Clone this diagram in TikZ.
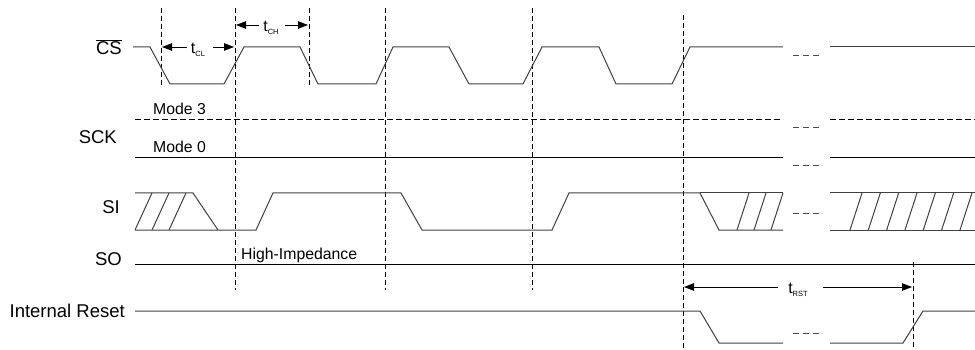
\documentclass[tikz,border=0pt]{standalone}
\usepackage{fontspec}
\setmainfont{Liberation Sans}
\usetikzlibrary{arrows.meta}
\begin{document}
\begin{tikzpicture}[x=1pt,y=-1pt,
  wave/.style={line width=1pt, draw=black!75, line join=miter},
  guide/.style={line width=0.8pt, dash pattern=on 5pt off 3pt, draw=black},
  lvl/.style={line width=0.8pt, draw=black},
  lvldash/.style={line width=0.8pt, draw=black, dash pattern=on 6pt off 3pt},
  lbl/.style={font=\fontsize{18.5}{19}\selectfont, inner sep=0pt, anchor=east},
  sml/.style={font=\fontsize{15.8}{16}\selectfont, inner sep=0pt, anchor=west},
  tlbl/.style={inner sep=0pt},
  dim/.style={line width=0.8pt, draw=black, -{Triangle[length=10pt,width=7.5pt]}},
  gapmark/.style={line width=1pt, dash pattern=on 6pt off 4pt, draw=black!70},
]
\useasboundingbox (0,0) rectangle (975,350);

% ---- vertical guides
\coordinate (g1t) at (161,8);   \coordinate (g1b) at (161,85);
\coordinate (g2t) at (235,8);   \coordinate (g2b) at (235,290);
\coordinate (g3t) at (309,8);   \coordinate (g3b) at (309,85);
\coordinate (g4t) at (385,8);   \coordinate (g4b) at (385,290);
\coordinate (g5t) at (532,8);   \coordinate (g5b) at (532,290);
\coordinate (g6t) at (683,15);  \coordinate (g6b) at (683,350);
\coordinate (g7t) at (913,262); \coordinate (g7b) at (913,350);
\foreach \g in {1,...,7} \draw[guide] (g\g t) -- (g\g b);

% ---- labels
\node[lbl] (cs) at (122,47) {$\overline{\hbox{CS}}$};
\node[lbl] (sck) at (117,137) {SCK};
\node[lbl] (si) at (120,207) {SI};
\node[lbl] (so) at (122,259) {SO};
\node[lbl] (ir) at (125,311) {Internal Reset};
\node[sml] (m3) at (153,109) {Mode 3};
\node[sml] (m0) at (153,147) {Mode 0};
\node[sml] (hz) at (241,255) {High-Impedance};

% ---- CS
\draw[wave] (133,47) -- (150,47) -- (170,84) -- (224,84) -- (244,47) -- (300,47) -- (318,84)
  -- (376,84) -- (393,47) -- (449,47) -- (469,84) -- (523,84) -- (542,47) -- (599,47)
  -- (616,84) -- (672,84) -- (690,47) -- (783,47);
\draw[wave] (830,47) -- (975,47);
\draw[gapmark] (793,56) -- (819,56);

% ---- SCK
\draw[lvldash] (135,119) -- (783,119);
\draw[lvldash] (830,119) -- (975,119);
\draw[lvl] (135,157) -- (783,157);
\draw[lvl] (830,157) -- (975,157);
\draw[gapmark] (793,128) -- (819,128);
\draw[gapmark] (793,166) -- (819,166);

% ---- SI
\draw[wave] (135,193) -- (193,193) -- (218,230);
\draw[wave] (135,230) -- (256,230) -- (273,193) -- (401,193) -- (422,230) -- (552,230)
  -- (569,193) -- (700,193) -- (719,230) -- (783,230);
\draw[wave] (700,193) -- (783,193);
\foreach \b in {135,152,169} \draw[wave] (\b,230) -- (\b+17,193);
\foreach \b in {737,754,771} \draw[wave] (\b,230) -- (\b+12,193);
\draw[gapmark] (793,213) -- (819,213);
\draw[wave] (830,193) -- (975,193);
\draw[wave] (830,230) -- (975,230);
\foreach \k in {0,...,6} \draw[wave] (850+18.33*\k,230) -- (862+18.33*\k,193);

% ---- SO
\draw[lvl] (135,264) -- (975,264);

% ---- Internal reset
\draw[wave] (135,311) -- (700,311) -- (719,343) -- (783,343);
\draw[wave] (830,343) -- (903,343) -- (923,311) -- (975,311);
\draw[gapmark] (793,333) -- (819,333);

% ---- timing dimensions
\node[tlbl] (tcl) at (198,50) {{\fontsize{16}{16}\selectfont t}{\fontsize{7.5}{8}\selectfont\raisebox{-3.5pt}{CL}}};
\coordinate (tcla) at (162,47); \coordinate (tclb) at (234,47);
\draw[dim] ([xshift=-4pt]tcl.west |- tcla) -- (tcla);
\draw[dim] ([xshift=8pt]tcl.east |- tclb) -- (tclb);

\node[tlbl] (tch) at (271,28) {{\fontsize{16}{16}\selectfont t}{\fontsize{7.5}{8}\selectfont\raisebox{-3.5pt}{CH}}};
\coordinate (tcha) at (236,25); \coordinate (tchb) at (308,25);
\draw[dim] ([xshift=-4pt]tch.west |- tcha) -- (tcha);
\draw[dim] ([xshift=6pt]tch.east |- tchb) -- (tchb);

\node[tlbl] (trst) at (798,290) {{\fontsize{16}{16}\selectfont t}{\fontsize{7.5}{8}\selectfont\raisebox{-3.5pt}{RST}}};
\coordinate (trsta) at (684,287); \coordinate (trstb) at (912,287);
\draw[dim] ([xshift=-10pt]trst.west |- trsta) -- (trsta);
\draw[dim] ([xshift=15pt]trst.east |- trstb) -- (trstb);
\end{tikzpicture}
\end{document}
